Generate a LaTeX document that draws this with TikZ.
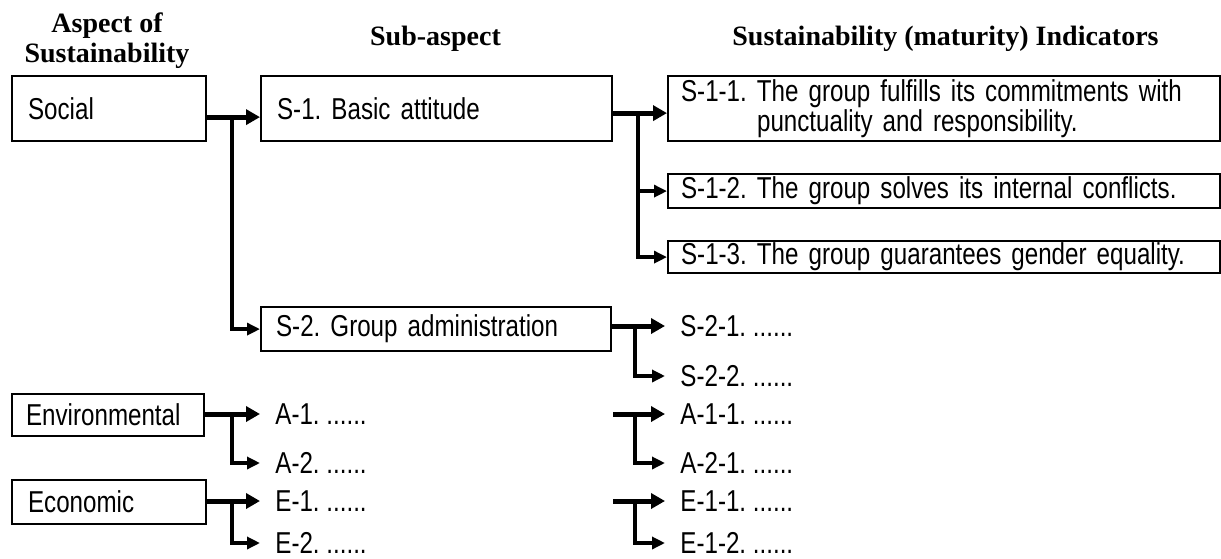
\documentclass[tikz,border=0pt]{standalone}
\usepackage{fontspec}
\setmainfont[FakeStretch=0.8]{Liberation Sans}
\newfontfamily\hdfont{Liberation Serif}
\usetikzlibrary{arrows.meta}
\frenchspacing
\begin{document}
\begin{tikzpicture}[x=0.5pt,y=-0.5pt,
  font=\fontsize{15.1}{13}\selectfont,
  hdr/.style={font=\hdfont\bfseries\fontsize{14}{15}\selectfont, inner sep=0pt},
  box/.style={draw, line width=1.1pt, anchor=north west, align=left, inner ysep=0pt, inner xsep=8pt},
  lbl/.style={anchor=west, inner xsep=7.5pt, inner ysep=0pt},
  mainarr/.style={line width=2.5pt, -{Triangle[length=7pt,width=7.5pt]}},
  larr/.style={line width=1.75pt, -{Triangle[length=6.5pt,width=6pt]}}]
\useasboundingbox (0,0) rectangle (1221,558);
% headers
\node[hdr, align=center] (h1) at (107,40.5) {Aspect of\\Sustainability};
\node[hdr, anchor=base] (h2) at (435.5,45) {Sub-aspect};
\node[hdr, anchor=base] (h3) at (945.5,45) {Sustainability (maturity) Indicators};
% boxes
\node[box, text width=81pt, minimum height=32.5pt] (soc) at (11,75) {Social};
\node[box, text width=159.5pt, minimum height=32.5pt] (s1) at (260,75) {S-1. Basic attitude};
\node[box, text width=160pt, minimum height=22pt, inner xsep=7.5pt] (s2) at (260,306) {S-2. Group administration};
\node[box, inner xsep=6.5pt, text width=263pt, minimum height=32.5pt] (s11) at (667,75)
  {\makebox[263pt][s]{S-1-1. The group fulfills its commitments with}\\\hspace*{38pt}punctuality and responsibility.};
\node[box, inner xsep=6.5pt, text width=263pt, minimum height=17pt] (s12) at (667,173) {S-1-2. The group solves its internal conflicts.};
\node[box, inner xsep=6.5pt, text width=263pt, minimum height=16pt] (s13) at (667,240) {S-1-3. The group guarantees gender equality.};
\node[box, text width=82pt, minimum height=21pt, inner xsep=7pt] (env) at (11,393) {Environmental};
\node[box, text width=81pt, minimum height=22pt] (eco) at (11,479) {Economic};
% plain labels
\node[lbl] (s21) at (665,326) {S-2-1. ......};
\node[lbl] (s22) at (665,376) {S-2-2. ......};
\node[lbl] (a1) at (260,414) {A-1. ......};
\node[lbl] (a2) at (260,463) {A-2. ......};
\node[lbl] (e1) at (260,501) {E-1. ......};
\node[lbl] (e2) at (260,543) {E-2. ......};
\node[lbl] (a11) at (665,414) {A-1-1. ......};
\node[lbl] (a21) at (665,463) {A-2-1. ......};
\node[lbl] (e11) at (665,501) {E-1-1. ......};
\node[lbl] (e12) at (665,543) {E-1-2. ......};
% junctions
\coordinate (j1) at (232,116);
\coordinate (j2) at (638,112);
\coordinate (j3) at (635,326);
\coordinate (j4) at (232,414);
\coordinate (j5) at (232,501);
\coordinate (j6) at (635,414);
\coordinate (j7) at (635,501);
\coordinate (f1) at (613,414);
\coordinate (f2) at (613,501);
% connectors
\draw[mainarr] ([yshift=-4.25pt]soc.east) -- ([yshift=-4.25pt]s1.west);
\draw[larr] (j1) |- (s2.west);
\draw[mainarr] ([yshift=-2.25pt]s1.east) -- ([yshift=-2.25pt]s11.west);
\draw[larr] (j2) |- (s12.west);
\draw[larr] (j2) |- (s13.west);
\draw[mainarr] (s21.west -| s2.east) -- (s21.west);
\draw[larr] (j3) |- (s22.west);
\draw[mainarr] (a1.west -| env.east) -- (a1.west);
\draw[larr] (j4) |- (a2.west);
\draw[mainarr] (e1.west -| eco.east) -- (e1.west);
\draw[larr] (j5) |- (e2.west);
\draw[mainarr] (f1) -- (a11.west);
\draw[larr] (j6) |- (a21.west);
\draw[mainarr] (f2) -- (e11.west);
\draw[larr] (j7) |- (e12.west);
\end{tikzpicture}
\end{document}
